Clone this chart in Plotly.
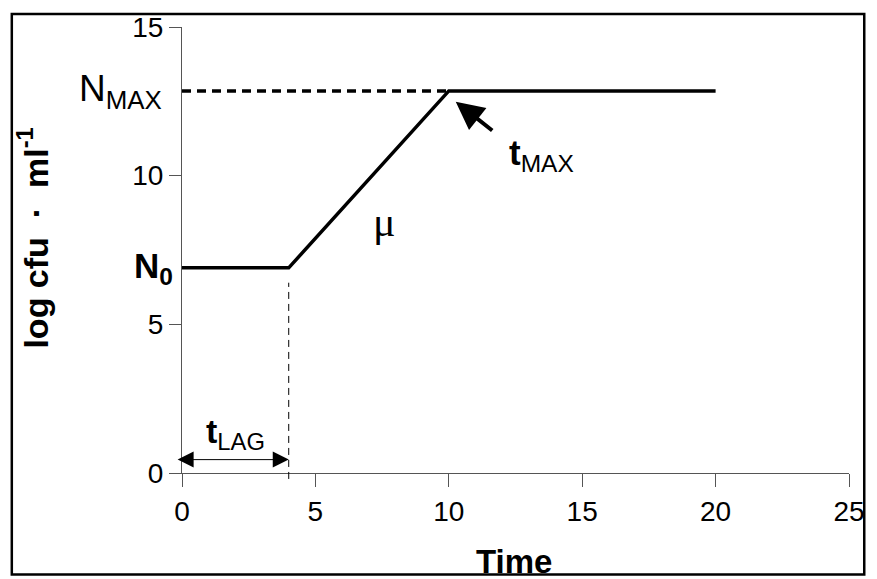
import plotly.graph_objects as go

# ---- data ----
time = [0, 4, 10, 20]
log_cfu = [6.9, 6.9, 12.85, 12.85]
t_lag = 4
t_max = 10
n0 = 6.9
n_max = 12.85
x_ticks = [0, 5, 10, 15, 20, 25]
y_ticks = [0, 5, 10, 15]

W, H = 877, 579
L, R, T, B = 182, 17, 23, 106
PW, PH = W - L - R, H - T - B

def px_x(p):
    return (p - L) / PW

def px_y(p):
    return (H - B - p) / PH

fig = go.Figure()
fig.add_trace(go.Scatter(x=[0, t_max], y=[n_max, n_max], mode="lines",
                         line=dict(color="black", width=3.5, dash="9px,6px"),
                         showlegend=False, hoverinfo="skip"))
fig.add_trace(go.Scatter(x=time, y=log_cfu, mode="lines",
                         line=dict(color="black", width=3.5),
                         showlegend=False, hoverinfo="skip"))

axis_common = dict(showgrid=False, zeroline=False, showline=True, linecolor="#555",
                   linewidth=1, ticks="outside", tickcolor="#555", tickwidth=1,
                   tickfont=dict(size=28, color="black", family="Liberation Sans, Arial"))

fig.update_layout(
    width=W, height=H,
    margin=dict(l=L, r=R, t=T, b=B),
    plot_bgcolor="white", paper_bgcolor="white",
    font=dict(family="Liberation Sans, Arial", color="black"),
    xaxis=dict(range=[0, 25], tickvals=x_ticks, ticklen=13, **axis_common),
    yaxis=dict(range=[0, 15], tickvals=y_ticks, ticklen=12, **axis_common),
)

shapes = [
    # outer frame
    dict(type="rect", xref="paper", yref="paper",
         x0=px_x(9), x1=px_x(875.5), y0=px_y(575.5), y1=px_y(10),
         line=dict(color="black", width=2.5)),
    # lag dashed vertical
    dict(type="line", xref="x", yref="paper", x0=t_lag, x1=t_lag,
         y0=px_y(479), y1=(n0 - 0.5) / 15,
         line=dict(color="black", width=1, dash="7px,5px")),
]
fig.update_layout(shapes=shapes)

ann = [
    dict(text="N<sub>MAX</sub>", xref="paper", yref="y", x=px_x(164), y=n_max,
         xanchor="right", yanchor="middle", showarrow=False, font=dict(size=37)),
    dict(text="<b>N<sub>0</sub></b>", xref="paper", yref="y", x=px_x(175), y=n0,
         xanchor="right", yanchor="middle", showarrow=False, font=dict(size=35)),
    dict(text="<b>t</b><sub>LAG</sub>", xref="x", yref="y", x=t_lag / 2, y=1.32,
         xanchor="center", yanchor="middle", showarrow=False, font=dict(size=34)),
    dict(text="<b>t</b><sub>MAX</sub>", xref="x", yref="y", x=13.47, y=10.69,
         xanchor="center", yanchor="middle", showarrow=False, font=dict(size=35)),
    dict(text="μ", xref="x", yref="y", x=7.59, y=8.43, showarrow=False,
         xanchor="center", yanchor="middle",
         font=dict(size=42, family="Liberation Serif")),
    # t_max arrow
    dict(text="", xref="x", yref="y", x=10.26, y=12.49, ax=38, ay=30,
         showarrow=True, arrowhead=2, arrowwidth=4, arrowsize=1.4, arrowcolor="black"),
    # t_lag double arrow
    dict(text="", xref="x", yref="y", x=t_lag, y=0.45, axref="x", ayref="y",
         ax=-0.22, ay=0.45, showarrow=True, arrowside="end+start",
         arrowhead=2, startarrowhead=2, arrowwidth=1, arrowsize=3.2,
         startarrowsize=3.2, arrowcolor="black"),
    # axis titles
    dict(text="<b>log cfu  ·  ml<sup>-1</sup></b>", xref="paper", yref="paper",
         x=px_x(30), y=px_y(236), xanchor="center", yanchor="middle",
         textangle=-90, showarrow=False, font=dict(size=34)),
    dict(text="<b>Time</b>", xref="paper", yref="paper", x=px_x(519), y=px_y(583),
         xanchor="center", yanchor="bottom", showarrow=False, font=dict(size=33)),
]
fig.update_layout(annotations=ann)

fig.write_html("out.html")
